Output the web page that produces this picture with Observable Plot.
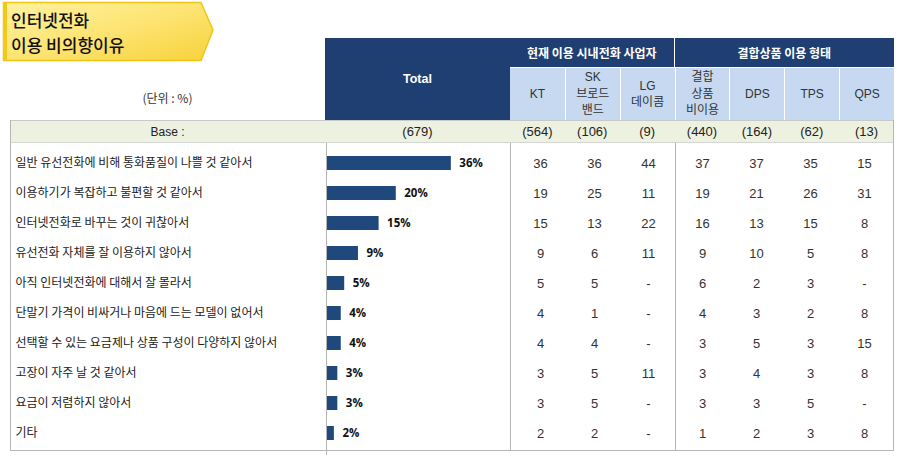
<!DOCTYPE html>
<html><head><meta charset="utf-8">
<script src="https://cdn.jsdelivr.net/npm/d3@7"></script>
<script src="https://cdn.jsdelivr.net/npm/@observablehq/plot@0.6"></script>
<style>
body{margin:0;background:#fff;}
#wrap{position:relative;width:897px;height:467px;font-family:"Noto Sans CJK KR","Noto Sans",sans-serif;overflow:hidden;}
.abs{position:absolute;box-sizing:border-box;}
.cell{display:flex;align-items:center;justify-content:center;text-align:center;}
</style></head><body><div id="wrap"></div>
<script>
// ---- data ----
const titleLines = ["인터넷전화", "이용 비의향이유"];
const unitLabel = "(단위 : %)";
const reasons = [
  "일반 유선전화에 비해 통화품질이 나쁠 것 같아서",
  "이용하기가 복잡하고 불편할 것 같아서",
  "인터넷전화로 바꾸는 것이 귀찮아서",
  "유선전화 자체를 잘 이용하지 않아서",
  "아직 인터넷전화에 대해서 잘 몰라서",
  "단말기 가격이 비싸거나 마음에 드는 모델이 없어서",
  "선택할 수 있는 요금제나 상품 구성이 다양하지 않아서",
  "고장이 자주 날 것 같아서",
  "요금이 저렴하지 않아서",
  "기타"
];
const totalValues = [36, 20, 15, 9, 5, 4, 4, 3, 3, 2];
const groupHeaders = ["현재 이용 시내전화 사업자", "결합상품 이용 형태"];
const columns = ["KT", "SK\n브로드\n밴드", "LG\n데이콤", "결합\n상품\n비이용", "DPS", "TPS", "QPS"];
const baseLabel = "Base :";
const baseTotal = 679;
const baseColumns = [564, 106, 9, 440, 164, 62, 13];
const ktValues   = [36, 19, 15, 9, 5, 4, 4, 3, 3, 2];
const skValues   = [36, 25, 13, 6, 5, 1, 4, 5, 5, 2];
const lgValues   = [44, 11, 22, 11, null, null, null, 11, null, null];
const nonBundleValues = [37, 19, 16, 9, 6, 4, 3, 3, 3, 1];
const dpsValues  = [37, 21, 13, 10, 2, 3, 5, 4, 3, 2];
const tpsValues  = [35, 26, 15, 5, 3, 2, 3, 3, 5, 3];
const qpsValues  = [15, 31, 8, 8, null, 8, 15, 8, null, 8];
const columnSeries = [ktValues, skValues, lgValues, nonBundleValues, dpsValues, tpsValues, qpsValues];

// ---- layout helpers ----
const wrap = document.getElementById("wrap");
function box(l, t, w, h, css = {}, html = "") {
  const d = document.createElement("div");
  d.className = "abs";
  Object.assign(d.style, {left: l + "px", top: t + "px", width: w + "px", height: h + "px"}, css);
  d.innerHTML = html;
  wrap.appendChild(d);
  return d;
}

// title banner
const ns = "http://www.w3.org/2000/svg";
const tsvg = document.createElementNS(ns, "svg");
tsvg.setAttribute("width", 220); tsvg.setAttribute("height", 66);
tsvg.style.position = "absolute"; tsvg.style.left = "0px"; tsvg.style.top = "0px";
tsvg.innerHTML = `<defs><linearGradient id="yg" x1="0" x2="1" y1="0" y2="1">
<stop offset="0" stop-color="#fff1a0"/><stop offset="0.5" stop-color="#fde473"/><stop offset="1" stop-color="#f8d23a"/></linearGradient></defs>
<polygon points="3.5,2.5 201,2.5 213,30 201,60.5 3.5,60.5" fill="url(#yg)" stroke="#efc515" stroke-width="1.5"/>
<rect x="3" y="2.5" width="4" height="58" fill="#f2c81c"/>`;
wrap.appendChild(tsvg);
box(11, 7, 190, 50, {fontSize: "17px", lineHeight: "25px", fontWeight: "500", color: "#111", whiteSpace: "nowrap"},
  titleLines.join("<br>"));

// unit label
box(10, 86, 315, 22, {fontSize: "12px", color: "#333"}, unitLabel).classList.add("cell");

// header
const navy = "#1f3f72", light = "#c6d9f1";
const colW = 384 / 7, x0 = 510;
box(325, 38, 185, 82, {background: navy, color: "#fff", fontWeight: "bold", fontSize: "12.5px", fontFamily: "Liberation Sans, Arial, sans-serif"}, "Total").classList.add("cell");
box(x0, 38, colW * 3, 29, {background: navy, color: "#fff", fontWeight: "bold", fontSize: "12px", borderRight: "1px solid #fff"}, groupHeaders[0]).classList.add("cell");
box(x0 + colW * 3, 38, colW * 4, 29, {background: navy, color: "#fff", fontWeight: "bold", fontSize: "12px"}, groupHeaders[1]).classList.add("cell");
columns.forEach((c, i) => {
  const d = box(x0 + colW * i, 67, colW, 53, {background: light, color: "#333", fontSize: "12px", lineHeight: "16.5px",
    borderLeft: i ? "1px solid #fff" : "none", borderTop: "1px solid #fff", fontFamily: "Liberation Sans, Noto Sans CJK KR, sans-serif"},
    c.split("\n").join("<br>"));
  d.classList.add("cell");
});

// base row
box(10, 120, 884, 23, {background: "#edf1e0", borderTop: "1px solid #c9c9c9", borderBottom: "1px solid #d5d5d5"});
box(10, 120, 315, 23, {fontSize: "12px", color: "#222", fontFamily: "Liberation Sans, Arial, sans-serif"}, baseLabel).classList.add("cell");
box(325, 120, 185, 23, {fontSize: "13px", color: "#222", fontFamily: "Liberation Sans, Arial, sans-serif"}, `(${baseTotal})`).classList.add("cell");
baseColumns.forEach((b, i) => {
  box(x0 + colW * i, 120, colW, 23, {fontSize: "13px", color: "#222", fontFamily: "Liberation Sans, Arial, sans-serif"}, `(${b})`).classList.add("cell");
});

// body borders
const lc = "#b5b5b5";
box(10, 120, 1, 331, {background: lc});
box(893, 120, 1, 331, {background: lc});
box(10, 450, 884, 1, {background: lc});
box(326, 143, 1, 312, {background: lc});
box(510, 143, 1, 308, {background: lc});
box(x0 + colW * 3, 143, 1, 308, {background: lc});

// ---- Plot A: labels + bars ----
const yScale = {domain: reasons, range: [0, 304], paddingInner: 0.54, paddingOuter: 0.27, axis: null};
const barData = reasons.map((r, i) => ({reason: r, value: totalValues[i]}));
const plotA = Plot.plot({
  width: 510, height: 304,
  marginLeft: 327, marginRight: 0, marginTop: 0, marginBottom: 0,
  style: {background: "transparent", overflow: "visible"},
  x: {domain: [0, 53.2], axis: null},
  y: yScale,
  marks: [
    Plot.text(reasons, {y: d => d, text: d => d, frameAnchor: "left", textAnchor: "start", dx: -312,
      fontSize: 12, fill: "#222", fontFamily: "Noto Sans CJK KR"}),
    Plot.barX(barData, {x: "value", y: "reason", fill: "#1f497d"}),
    Plot.text(barData, {x: "value", y: "reason", text: d => d.value + "%", textAnchor: "start", dx: 8,
      fontSize: 11.5, fontWeight: "bold", fill: "#111", fontFamily: "Open Sans"})
  ]
});
plotA.style.position = "absolute"; plotA.style.left = "0px"; plotA.style.top = "146px";
wrap.appendChild(plotA);

// ---- Plot B: numbers table ----
const cellData = [];
columns.forEach((c, ci) => reasons.forEach((r, ri) => cellData.push({col: c, reason: r, v: columnSeries[ci][ri]})));
const plotB = Plot.plot({
  width: 384, height: 304,
  marginLeft: 0, marginRight: 0, marginTop: 0, marginBottom: 0,
  style: {background: "transparent", overflow: "visible"},
  x: {type: "band", domain: columns, padding: 0, axis: null},
  y: yScale,
  marks: [
    Plot.text(cellData, {x: "col", y: "reason", text: d => d.v == null ? "-" : String(d.v),
      fontSize: 13, fill: "#333", fontFamily: "Liberation Sans"})
  ]
});
plotB.style.position = "absolute"; plotB.style.left = x0 + "px"; plotB.style.top = "146px";
wrap.appendChild(plotB);
</script></body></html>
